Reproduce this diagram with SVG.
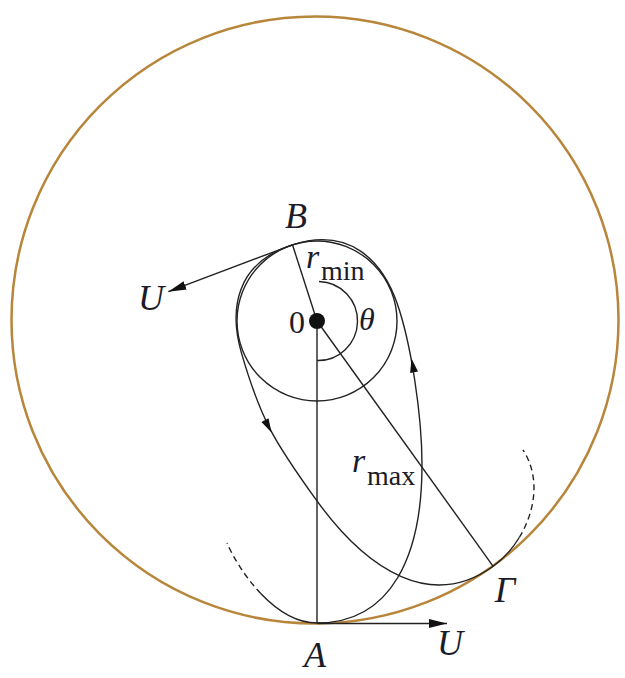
<svg xmlns="http://www.w3.org/2000/svg" width="625" height="678" viewBox="0 0 625 678">
  <style>
    .ln { fill: none; stroke: #222; stroke-width: 1.4; stroke-linecap: butt; }
    .dash { fill: none; stroke: #222; stroke-width: 1.4; stroke-dasharray: 6 4; }
    .lbl { font-family: "Liberation Serif", "Times New Roman", serif; font-style: italic; fill: #1c1c28; }
    .rom { font-family: "Liberation Serif", "Times New Roman", serif; fill: #1c1c28; }
  </style>
  <defs>
    <marker id="ah" markerUnits="userSpaceOnUse" markerWidth="20" markerHeight="10" refX="18" refY="4.5" orient="auto">
      <path d="M0,0 L18,4.5 L0,9 Z" fill="#111"/>
    </marker>
    <path id="sa" d="M0,0 L-14,-4 L-14,4 Z" fill="#111"/>
  </defs>
  <rect width="625" height="678" fill="#fff"/>

  <g id="outer-circle">
    <circle cx="315" cy="320" r="303.5" fill="none" stroke="#b8863a" stroke-width="2.5"/>
  </g>

  <g id="inner-circle">
    <circle cx="317" cy="321" r="80" class="ln"/>
  </g>

  <g id="connectors">
    <line id="r-min" x1="292.5" y1="244.8" x2="317" y2="321" class="ln"/>
    <line id="r-max" x1="317" y1="321" x2="493.2" y2="566.3" class="ln"/>
    <line id="oa" x1="317" y1="321" x2="317" y2="623" class="ln" stroke="#444"/>
    <path id="theta-arc" d="M319,281.5 A39.5,39.5 0 0 1 317,360.5" class="ln"/>
    <line id="u-at-b" x1="292.5" y1="244.8" x2="168.3" y2="291.7" class="ln" marker-end="url(#ah)"/>
    <line id="u-at-a" x1="317" y1="623.5" x2="447" y2="623.5" class="ln" marker-end="url(#ah)"/>
  </g>

  <g id="trajectory">
    <path id="arc-a-b" d="M317,623 C392,623 422,555 422,465 C422,415 411,343 397,303 C382,260.7 349.6,226.4 292.5,244.8" class="ln"/>
    <path id="arc-b-g" d="M292.5,244.8 C235.3,263.2 229,309.9 241.5,353.1 C261,420.4 274.9,442.4 315.7,499.2 C368.2,572.3 432.3,610.1 493.2,566.3" class="ln"/>
    <path d="M317,623 C296,623 276.5,610 260.75,593.5" class="ln"/>
    <path d="M260.75,593.5 C245,577 233,557 227,543" class="dash"/>
    <path d="M493.2,566.3 C503.34,558.92 512.33,548.92 519.27,537.51" class="ln"/>
    <path d="M519.27,537.51 C535.46,510.89 540.5,476.6 523,450" class="dash"/>
    <use href="#sa" transform="translate(411.5,358.5) rotate(-100.6)"/>
    <use href="#sa" transform="translate(271.5,432.5) rotate(62.3)"/>
  </g>

  <g id="center">
    <circle cx="317" cy="321" r="8" fill="#111"/>
    <text x="305" y="333" class="rom" font-size="32" text-anchor="end">0</text>
  </g>

  <g id="labels">
    <text x="296" y="228" class="lbl" font-size="36" text-anchor="middle">B</text>
    <text x="151" y="310" class="lbl" font-size="36" text-anchor="middle">U</text>
    <text x="450" y="655" class="lbl" font-size="36" text-anchor="middle">U</text>
    <text x="315" y="667" class="lbl" font-size="36" text-anchor="middle">A</text>
    <text x="505" y="602" class="lbl" font-size="36" text-anchor="middle">Γ</text>
    <text x="359" y="330" class="lbl" font-size="32">θ</text>
    <text x="306" y="268" class="lbl" font-size="34">r</text>
    <text x="321" y="280" class="rom" font-size="28">min</text>
    <text x="352" y="472" class="lbl" font-size="34">r</text>
    <text x="367" y="485" class="rom" font-size="28">max</text>
  </g>
</svg>
